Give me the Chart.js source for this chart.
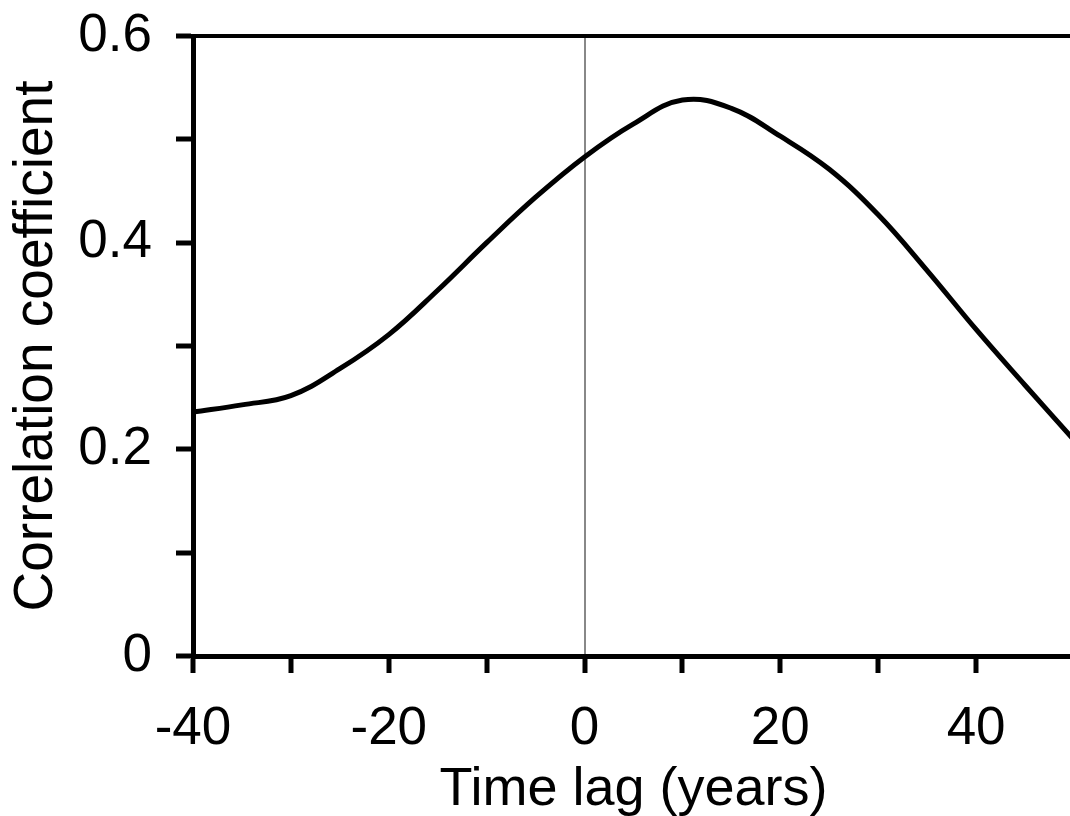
<!DOCTYPE html>
<html>
<head>
<meta charset="utf-8">
<script src="https://cdn.jsdelivr.net/npm/chart.js@4/dist/chart.umd.min.js"></script>
<style>
  html, body { margin: 0; padding: 0; background: #fff; overflow: hidden; }
  #wrap { width: 1074px; height: 816px; }
</style>
</head>
<body>
<div id="wrap"><canvas id="chart"></canvas></div>
<script>
// time lag in years and the correlation
const lags = [-40, -35, -30, -25, -20, -15, -10, -5, 0, 5, 10, 15, 20, 25, 30, 35, 40, 45, 50];
const corr = [0.236, 0.243, 0.252, 0.278, 0.311, 0.354, 0.400, 0.444, 0.483, 0.515, 0.538, 0.530, 0.503, 0.471, 0.427, 0.373, 0.316, 0.262, 0.209];

const xLabels = [-40, -20, 0, 20, 40];
const yLabels = [0, 0.2, 0.4, 0.6];

const font = 'Liberation Sans, Arial, sans-serif';

let points = lags.map((x, i) => ({ x: x, y: corr[i] }));

let data = {
    datasets: [{
        data: points,
        borderColor: '#000',
        borderWidth: 5,
        pointRadius: 0,
        fill: false,
        tension: 0.4
    }]
};

const isTop = v => Math.abs(v - 0.6) < 1e-9;

let options = {
    responsive: true,
    maintainAspectRatio: false,
    animation: false,
    layout: { padding: { top: 36, left: 0, right: 0, bottom: 0 } },
    plugins: { legend: { display: false }, tooltip: { enabled: false } },
    scales: {
        x: {
            type: 'linear',
            min: -40,
            max: 50,
            afterFit: s => { s.height = 160; s.paddingLeft = 0; s.paddingRight = 0; },
            border: { color: '#000', width: 5 },
            grid: {
                drawOnChartArea: true,
                color: ctx => ctx.tick && ctx.tick.value === 0 ? '#888' : 'rgba(0,0,0,0)',
                lineWidth: 2,
                tickColor: '#000',
                tickWidth: 5,
                tickLength: 17
            },
            ticks: {
                stepSize: 10,
                autoSkip: false,
                maxRotation: 0,
                color: '#000',
                padding: 25,
                font: { family: font, size: 53 },
                callback: v => xLabels.includes(v) ? String(v) : ''
            },
            title: {
                display: true,
                text: 'Time lag (years)',
                color: '#000',
                font: { family: font, size: 54 },
                padding: { top: 0, bottom: -7 }
            }
        },
        y: {
            min: 0,
            max: 0.6,
            afterFit: s => { s.width = 193; s.paddingTop = 0; s.paddingBottom = 0; },
            border: { color: '#000', width: 5 },
            grid: {
                drawOnChartArea: true,
                color: ctx => ctx.tick && isTop(ctx.tick.value) ? '#000' : 'rgba(0,0,0,0)',
                lineWidth: 4,
                tickColor: '#000',
                tickWidth: 5,
                tickLength: 17
            },
            ticks: {
                stepSize: 0.1,
                autoSkip: false,
                color: '#000',
                padding: 24,
                font: { family: font, size: 53 },
                callback: v => {
                    let hit = yLabels.find(l => Math.abs(l - v) < 1e-9);
                    if (hit === undefined) return '';
                    return hit === 0 ? '0' : hit.toFixed(1);
                }
            },
            title: {
                display: true,
                text: 'Correlation coefficient',
                color: '#000',
                font: { family: font, size: 55 },
                padding: { top: 4, bottom: 0 }
            }
        }
    }
};

new Chart(document.getElementById('chart'), {
    type: 'line',
    data: data,
    options: options
});
</script>
</body>
</html>
